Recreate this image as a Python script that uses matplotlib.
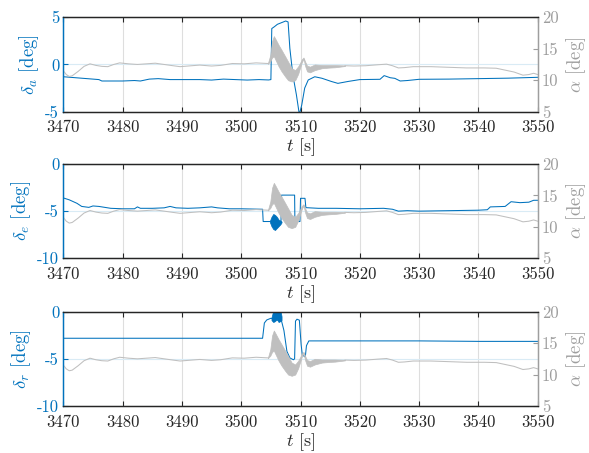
import matplotlib
matplotlib.use("Agg")
import matplotlib.pyplot as plt
from matplotlib.ticker import StrMethodFormatter

# Estilo tipo LaTeX (Computer Modern)
plt.rcParams["font.family"] = "cmr10"
plt.rcParams["mathtext.fontset"] = "cm"
plt.rcParams["axes.unicode_minus"] = False
plt.rcParams["axes.formatter.use_mathtext"] = True
plt.rcParams["font.size"] = 12

AZUL = (0, 0.447, 0.741)
GRIS = (0.75, 0.75, 0.75)
GRIS_TXT = (0.62, 0.62, 0.62)
NEGRO = (0.15, 0.15, 0.15)
LW = 0.75

# --- Ángulo de ataque (común a los tres paneles) ---
# tramo antes de la maniobra
t_alpha_1 = [3470.0, 3470.5, 3471.0, 3471.5, 3472.5, 3473.5, 3474.5, 3475.5, 3476.5, 3477.5,
             3478.5, 3479.5, 3481.0, 3482.5, 3484.0, 3485.5, 3487.0, 3488.5, 3489.7, 3491.0,
             3493.0, 3495.0, 3496.5, 3498.5, 3500.5, 3502.5, 3504.5]
alpha_1 = [11.5, 10.9, 10.6, 10.7, 11.4, 12.2, 12.6, 12.35, 12.2, 12.15,
           12.5, 12.75, 12.6, 12.5, 12.6, 12.7, 12.5, 12.3, 12.15, 12.25,
           12.4, 12.25, 12.35, 12.65, 12.6, 12.75, 12.65]
# tramo después de la maniobra
t_alpha_2 = [3517.5, 3519.0, 3521.0, 3523.0, 3524.5, 3525.5, 3526.5, 3527.5, 3529.0, 3532.0,
             3535.0, 3538.0, 3541.0, 3543.0, 3544.5, 3546.0, 3547.5, 3548.5, 3549.3, 3550.0]
alpha_2 = [12.3, 12.25, 12.3, 12.45, 12.55, 12.3, 11.95, 12.0, 12.15, 12.15,
           12.05, 11.95, 11.95, 11.9, 11.6, 11.3, 10.8, 10.9, 11.1, 10.9]

# banda de oscilación de alpha durante la maniobra
t_banda = [3504.5, 3504.9, 3505.2, 3505.5, 3505.8, 3506.3, 3506.8, 3507.4, 3507.9, 3508.5,
           3509.1, 3509.6, 3509.9, 3510.2, 3510.5, 3510.8, 3511.1, 3511.6, 3512.4, 3513.6,
           3514.8, 3515.8, 3517.5]
alpha_min = [12.6, 13.0, 13.6, 13.8, 13.2, 12.2, 11.4, 10.6, 10.0, 9.8,
             10.0, 11.0, 11.9, 12.8, 13.4, 12.2, 11.4, 11.25, 11.6, 11.9,
             12.0, 12.05, 12.25]
alpha_max = [12.7, 14.0, 16.2, 17.0, 16.5, 15.6, 14.8, 13.8, 12.95, 11.9,
             11.6, 12.2, 12.7, 13.3, 13.6, 12.9, 12.3, 12.15, 12.5, 12.4,
             12.4, 12.4, 12.35]

# --- Alerones ---
t_da = [3470, 3472, 3474, 3476, 3476.5, 3480, 3482, 3483, 3484.5, 3486,
        3488, 3490, 3493, 3495, 3497, 3499, 3501, 3503, 3504.6, 3505.0,
        3505.15, 3505.6, 3506.1, 3507.5, 3507.9, 3508.2, 3508.7, 3509.3, 3509.8, 3510.2,
        3510.7, 3511.3, 3512.4, 3513.6, 3515.2, 3516.3, 3518, 3520, 3523.4, 3524.1,
        3525.1, 3525.9, 3526.8, 3528, 3530, 3535, 3540, 3545, 3550]
da = [-1.3, -1.4, -1.5, -1.6, -1.75, -1.75, -1.7, -1.75, -1.55, -1.5,
      -1.6, -1.6, -1.6, -1.65, -1.55, -1.6, -1.65, -1.6, -1.64, -1.6,
      3.8, 4.0, 4.25, 4.6, 4.5, 1.7, -1.1, -3.2, -5.3, -4.3,
      -2.5, -1.64, -1.3, -1.46, -1.8, -2.0, -1.8, -1.6, -1.57, -1.18,
      -1.4, -1.47, -1.75, -1.7, -1.57, -1.55, -1.5, -1.45, -1.36]

# --- Timón de profundidad ---
t_de = [3470, 3471, 3472.3, 3473.1, 3474.3, 3475, 3476, 3478, 3480, 3482,
        3482.5, 3483, 3485, 3487, 3488, 3489, 3491, 3493, 3495, 3496,
        3498, 3500, 3503.6, 3503.7, 3504.85, 3505.8, 3506.7, 3506.8, 3509.0, 3509.05,
        3509.9, 3510.0, 3510.75, 3510.9, 3513, 3516, 3520, 3524, 3525.5, 3526.5,
        3528, 3530, 3535, 3540, 3541.5, 3542, 3544.5, 3545.5, 3547, 3548.5,
        3549.3, 3550]
de = [-3.6, -3.8, -4.17, -4.5, -4.6, -4.45, -4.5, -4.7, -4.75, -4.75,
      -4.55, -4.7, -4.7, -4.65, -4.5, -4.65, -4.7, -4.65, -4.55, -4.65,
      -4.75, -4.75, -4.8, -6.1, -6.1, -6.3, -6.1, -3.3, -3.3, -6.1,
      -6.1, -3.64, -3.64, -4.63, -4.7, -4.7, -4.75, -4.7, -4.8, -5.0,
      -4.95, -5.0, -4.95, -4.9, -4.85, -4.55, -4.5, -4.0, -4.1, -4.05,
      -3.85, -3.85]
t_de_ruido = [3504.85, 3505.1, 3505.4, 3505.7, 3506.0, 3506.3, 3506.6, 3506.8]
de_min = [-6.2, -6.6, -6.9, -7.0, -6.8, -6.6, -6.4, -6.2]
de_max = [-6.0, -5.6, -5.3, -5.4, -5.6, -5.9, -6.0, -6.1]

# --- Timón de dirección ---
t_dr = [3470, 3503.6, 3503.9, 3504.3, 3505.0, 3506.8, 3507.2, 3507.7, 3508.2, 3508.8,
        3509.0, 3509.15, 3509.4, 3509.8, 3510.1, 3510.3, 3510.8, 3511.0, 3511.4, 3512,
        3520, 3530, 3540, 3550]
dr = [-2.82, -2.82, -1.2, -0.88, -0.7, -1.0, -2.0, -4.2, -4.9, -5.1,
      -5.0, -1.0, -0.8, -0.9, -3.5, -4.6, -4.8, -3.6, -3.1, -3.1,
      -3.1, -3.1, -3.15, -3.15]
t_dr_ruido = [3505.1, 3505.4, 3505.7, 3506.0, 3506.3, 3506.6, 3506.8]
dr_min = [-0.9, -1.1, -1.0, -0.8, -1.1, -1.0, -0.9]
dr_max = [-0.6, 0.1, -0.2, 0.2, -0.1, 0.2, -0.5]

x_ticks = list(range(3470, 3551, 10))


# Función para dibujar un panel con la deflexión (izq.) y alpha (dcha.)
def panel(fig, rect, t, y, ylim, yticks, ylabel, ruido=None):
    ax = fig.add_axes(rect)
    ax.plot(t, y, color=AZUL, lw=LW)
    if ruido is not None:
        ax.fill_between(ruido[0], ruido[1], ruido[2], color=AZUL, lw=0.5)

    ax.set_xlim(3470, 3550)
    ax.set_ylim(ylim)
    ax.set_xticks(x_ticks)
    ax.set_yticks(yticks)
    ax.xaxis.set_major_formatter(StrMethodFormatter("{x:.0f}"))
    ax.yaxis.set_major_formatter(StrMethodFormatter("{x:.0f}"))
    ax.set_axisbelow(True)
    ax.grid(axis="x", color=(0.87, 0.87, 0.87), lw=0.8)
    ax.grid(axis="y", color=(0.85, 0.92, 0.96), lw=0.8)

    ax.tick_params(axis="x", direction="in", length=3.5, top=True, colors=NEGRO, pad=6)
    ax.tick_params(axis="y", direction="in", length=3.5, colors=AZUL, pad=3)
    ax.set_ylabel(ylabel, color=AZUL, fontsize=13.5, labelpad=3)
    ax.set_xlabel(r"$t$ [s]", color=NEGRO, fontsize=13, labelpad=1)

    ax2 = ax.twinx()
    ax2.plot(t_alpha_1, alpha_1, color=GRIS, lw=LW)
    ax2.plot(t_alpha_2, alpha_2, color=GRIS, lw=LW)
    ax2.fill_between(t_banda, alpha_min, alpha_max, color=GRIS, lw=0.5)
    ax2.set_ylim(5, 20)
    ax2.set_yticks([5, 10, 15, 20])
    ax2.yaxis.set_major_formatter(StrMethodFormatter("{x:.0f}"))
    ax2.tick_params(axis="y", direction="in", length=3.5, colors=GRIS_TXT, pad=3)
    ax2.set_ylabel(r"$\alpha$ [deg]", color=GRIS_TXT, fontsize=13.5, labelpad=4)

    for a in (ax, ax2):
        a.spines["top"].set_color(NEGRO)
        a.spines["bottom"].set_color(NEGRO)
        a.spines["left"].set_color(AZUL)
        a.spines["right"].set_color(GRIS_TXT)
        for s in a.spines.values():
            s.set_linewidth(0.9)
    return ax, ax2


fig = plt.figure(figsize=(5.89, 4.53), dpi=100)

izq, ancho = 0.1075, 0.8055
panel(fig, [izq, 0.7534, ancho, 0.2086], t_da, da, (-5, 5), [-5, 0, 5], r"$\delta_a$ [deg]")
panel(fig, [izq, 0.4298, ancho, 0.2082], t_de, de, (-10, 0), [-10, -5, 0], r"$\delta_e$ [deg]",
      ruido=(t_de_ruido, de_min, de_max))
panel(fig, [izq, 0.1038, ancho, 0.2082], t_dr, dr, (-10, 0), [-10, -5, 0], r"$\delta_r$ [deg]",
      ruido=(t_dr_ruido, dr_min, dr_max))

fig.savefig("out.png", dpi=100)
